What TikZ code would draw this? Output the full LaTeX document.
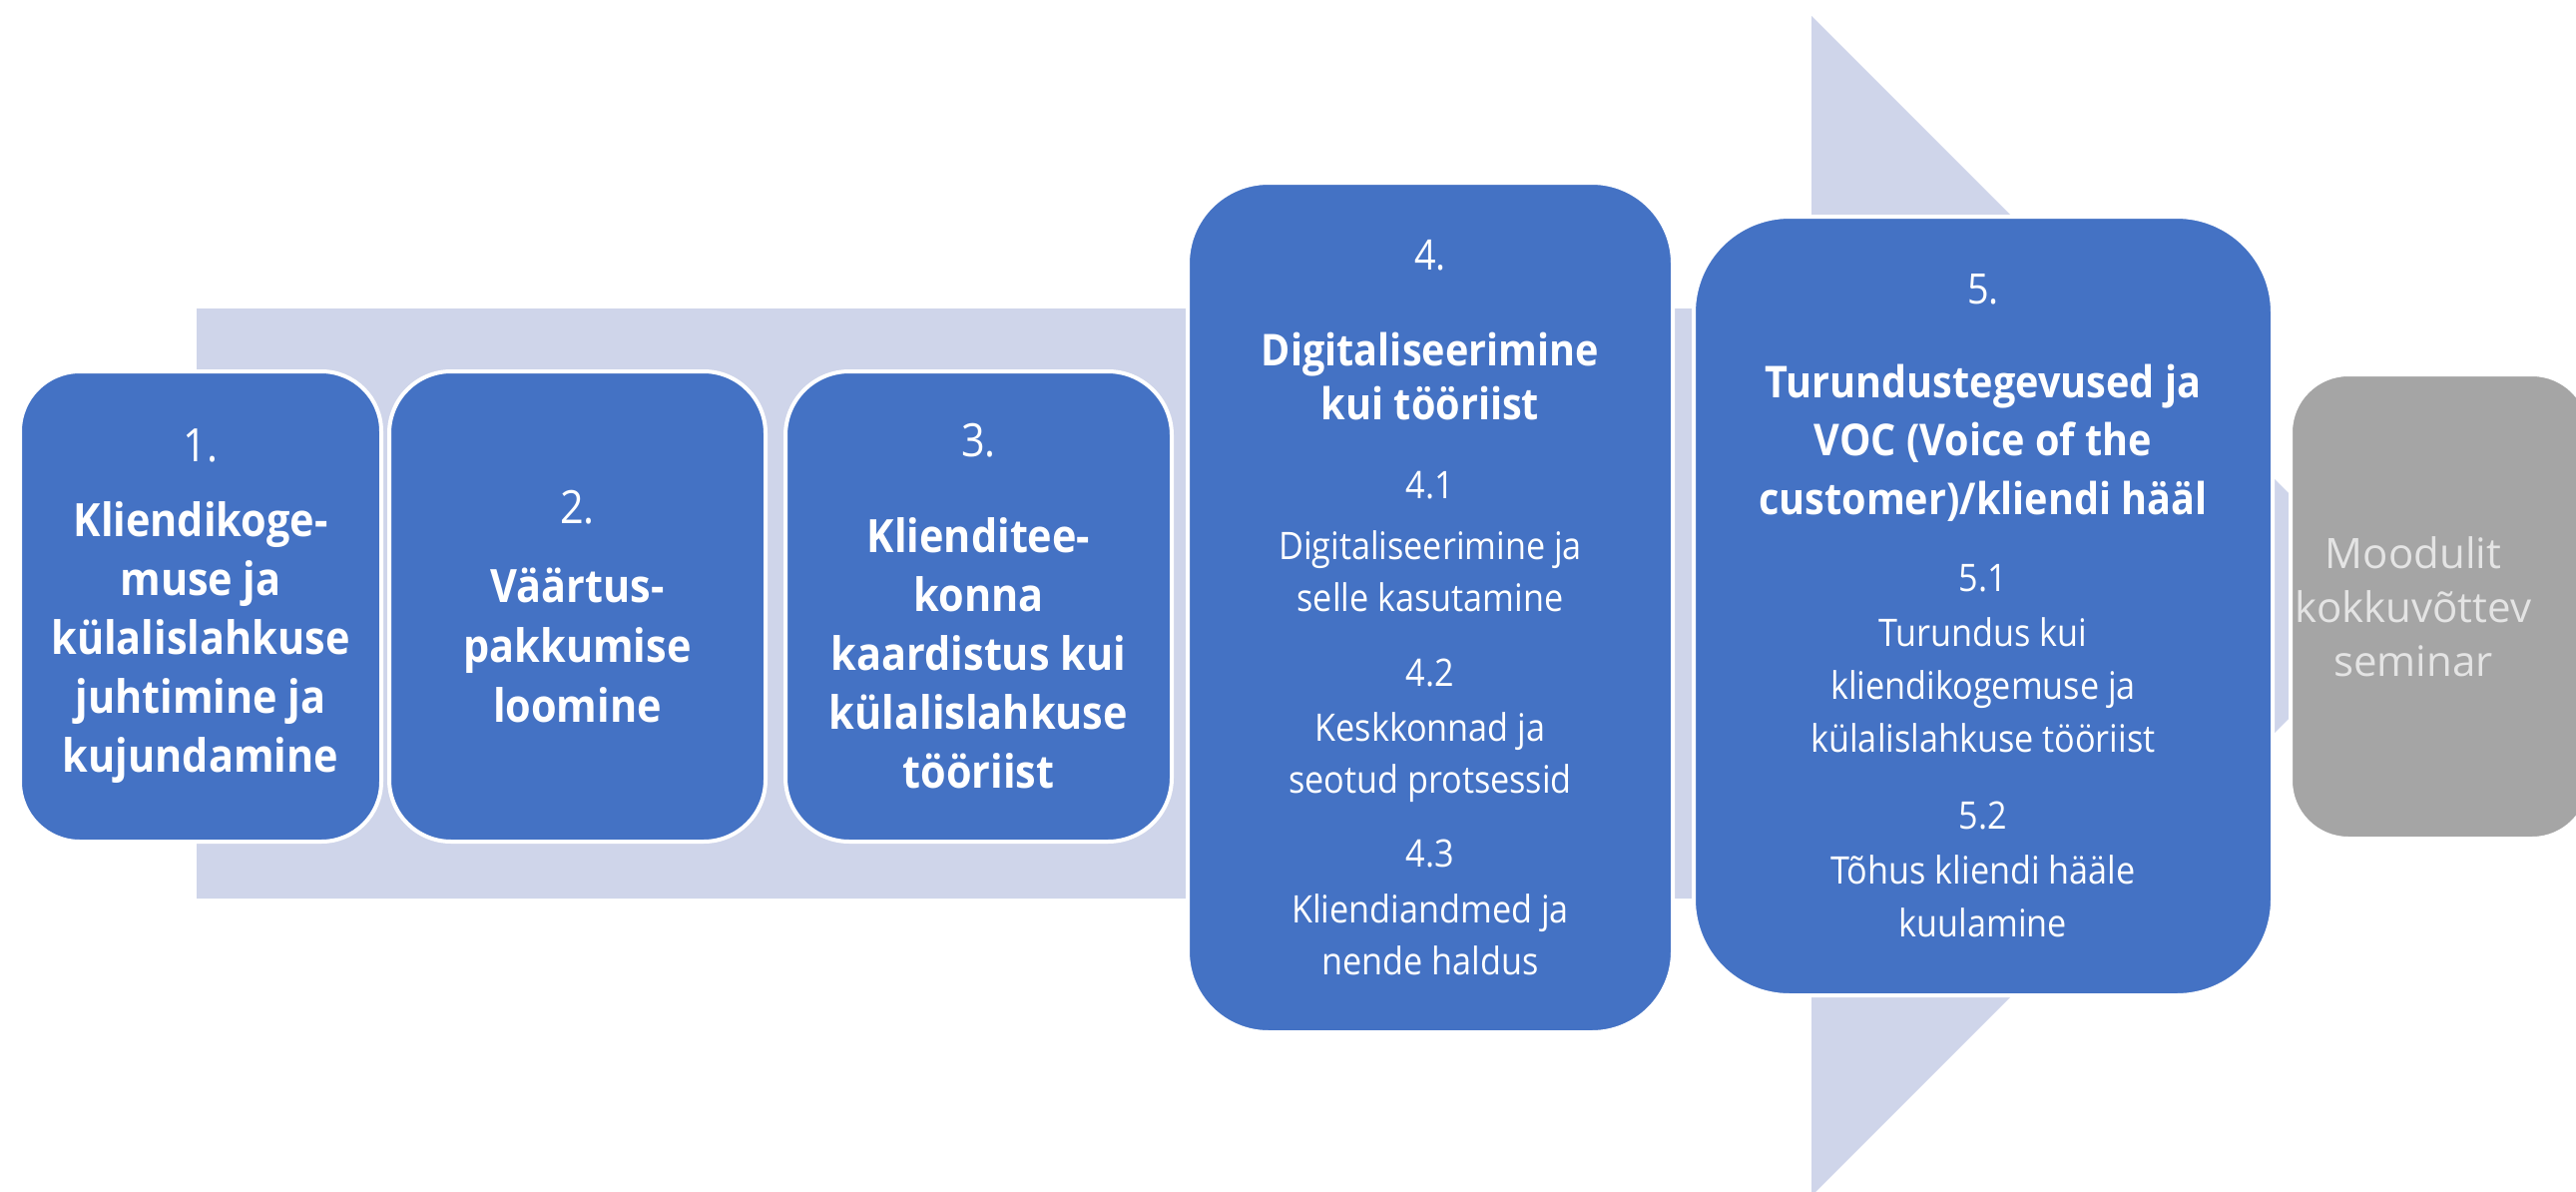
\documentclass[tikz,border=0pt]{standalone}
\usepackage{fontspec}
\setmainfont{Open Sans}
\newfontfamily\condf{Open Sans}[FakeStretch=0.9]
\definecolor{boxblue}{HTML}{4472C4}
\definecolor{shaftcol}{HTML}{CFD5EA}
\definecolor{boxgray}{HTML}{A5A5A5}
\definecolor{graytext}{HTML}{E4E4E4}
\newcommand{\boxtitle}[1]{{\fontsize{44}{52}\selectfont\bfseries #1}}
\newcommand{\boxnum}[1]{{\fontsize{42}{52}\selectfont #1}}
\begin{document}
\begin{tikzpicture}[x=1pt,y=-1pt,
  stagebox/.style={rounded corners=#1, fill=boxblue, draw=white, line width=4pt,
    text=white, align=center, inner sep=0pt},
  endbox/.style={rounded corners=#1, fill=boxgray, draw=white, line width=4pt,
    inner sep=0pt},
  endtext/.style={text=graytext, align=center, inner sep=0pt}]
\useasboundingbox (0,0) rectangle (2581,1194);
\clip (0,0) rectangle (2581,1194);
% background arrow
\fill[shaftcol] (197,309) -- (1815,309) -- (1815,16) -- (2406,607)
  -- (1815,1198) -- (1815,900) -- (197,900) -- cycle;
% stages
\node[stagebox=60pt, minimum width=362pt, minimum height=471pt,
  font=\condf\fontsize{46}{59}\selectfont] (b1) at (201,607.5)
  {1.\\[16pt]\textbf{Kliendikoge-}\\\textbf{muse ja}\\\textbf{külalislahkuse}\\\textbf{juhtimine ja}\\\textbf{kujundamine}};
\node[stagebox=62pt, minimum width=377pt, minimum height=471pt,
  font=\condf\fontsize{46}{60}\selectfont] (b2) at (578.5,607.5)
  {2.\\[19pt]\textbf{Väärtus-}\\\textbf{pakkumise}\\\textbf{loomine}};
\node[stagebox=64pt, minimum width=387pt, minimum height=471pt,
  font=\condf\fontsize{46}{59}\selectfont] (b3) at (980.5,607.5)
  {3.\\[37pt]\textbf{Klienditee-}\\\textbf{konna}\\\textbf{kaardistus kui}\\\textbf{külalislahkuse}\\\textbf{tööriist}};
\node[stagebox=81pt, minimum width=486pt, minimum height=851pt,
  font=\condf\fontsize{38}{52}\selectfont] (b4) at (1433,608.5)
  {\boxnum{4.}\\[44pt]\boxtitle{Digitaliseerimine}\\[2pt]\boxtitle{kui tööriist}\\[27pt]
   4.1\\[9pt]Digitaliseerimine ja\\selle kasutamine\\[23pt]
   4.2\\[3pt]Keskkonnad ja\\seotud protsessid\\[22pt]
   4.3\\[4pt]Kliendiandmed ja\\nende haldus};
\node[stagebox=96pt, minimum width=580pt, minimum height=780pt,
  font=\condf\fontsize{38}{53}\selectfont] (b5) at (1987,607)
  {\boxnum{5.}\\[41pt]\boxtitle{Turundustegevused ja}\\[5pt]\boxtitle{VOC (Voice of the}\\[6pt]\boxtitle{customer)/kliendi hääl}\\[24pt]
   5.1\\[2pt]Turundus kui\\kliendikogemuse ja\\külalislahkuse tööriist\\[24pt]
   5.2\\[2pt]Tõhus kliendi hääle\\kuulamine};
\node[endbox=58pt, minimum width=300pt, minimum height=465pt] (b6) at (2445,607.5) {};
\node[endtext, font=\fontsize{42}{54}\selectfont] (t6) at (2418,607.5)
  {Moodulit\\kokkuvõttev\\seminar};
\end{tikzpicture}
\end{document}
